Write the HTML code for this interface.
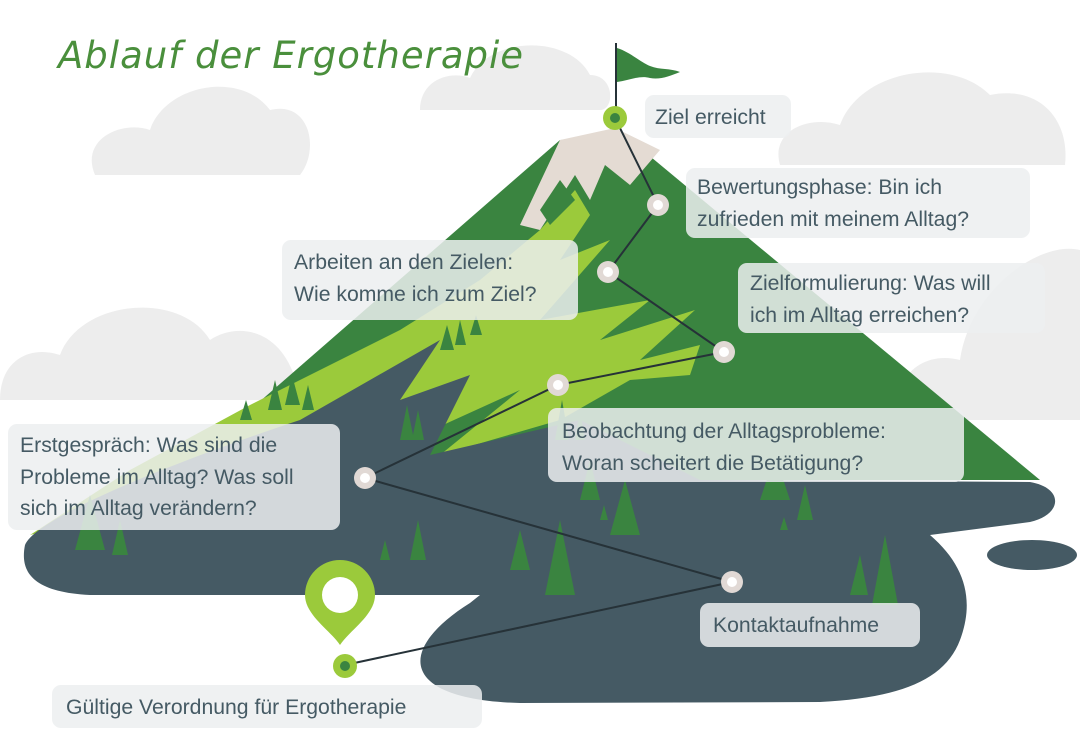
<!DOCTYPE html>
<html><head><meta charset="utf-8"><style>
html,body{margin:0;padding:0;background:#fff}
svg{display:block}
.t{font-family:"Liberation Sans","DejaVu Sans",sans-serif;font-size:21.2px;fill:#455a64}
</style></head><body>
<svg width="1080" height="752" viewBox="0 0 1080 752" xmlns="http://www.w3.org/2000/svg">
<g fill="#ededed">
<path d="M95,175 C80,140 120,120 150,130 C165,85 240,70 270,110 C310,100 320,150 300,175 Z"/>
<path d="M420,110 C420,80 450,70 470,78 C490,35 570,35 590,75 C615,75 615,110 600,110 Z"/>
<path d="M780,165 C770,130 810,115 840,125 C860,70 950,55 990,95 C1040,85 1070,120 1065,165 Z"/>
<path d="M900,420 C890,380 920,350 960,360 C970,290 1040,240 1080,250 L1080,420 Z"/>
<path d="M0,400 C0,360 30,345 60,355 C80,300 180,290 210,340 C240,320 290,330 300,400 Z"/>
</g>
<path d="M560,140 L628,138 L1040,480 L240,480 L250,410 Z" fill="#3a8440"/>
<path d="M560,140 L615,128 L660,150 L630,185 L605,165 L590,200 L575,175 L540,230 L520,225 Z" fill="#e4dbd3"/>
<path d="M540,230 L575,190 L590,215 L560,260 L610,240 L540,320 L650,300 L600,340 L695,310 L640,360 L700,345 L690,375 L630,380 L560,420 L440,455 L520,390 L410,440 L30,535 L130,470 L250,405 L400,330 L480,280 Z" fill="#9bca3b"/>
<path d="M560,180 L540,210 L550,225 L575,200 Z" fill="#3a8440"/>
<path d="M25,545 C35,520 150,470 300,420 L440,340 L400,400 L470,375 L430,455 L580,420 L700,480 L1030,482 C1065,488 1062,515 1030,522 L930,535 C965,565 975,600 960,640 C945,680 900,698 820,702 L520,703 C400,700 395,650 470,603 L480,595 L90,595 C30,592 20,570 25,545 Z" fill="#455a64"/>
<ellipse cx="1032" cy="555" rx="45" ry="15" fill="#455a64"/>
<g fill="#3a8440">
<path d="M75,550 L90,495 L105,550Z"/><path d="M112,555 L120,520 L128,555Z"/>
<path d="M240,420 L246,400 L252,420Z"/><path d="M268,410 L275,380 L282,410Z"/><path d="M285,405 L292,375 L300,405Z"/><path d="M302,410 L308,385 L314,410Z"/>
<path d="M400,440 L407,405 L414,440Z"/><path d="M412,440 L418,410 L424,440Z"/><path d="M380,560 L385,540 L390,560Z"/><path d="M410,560 L418,520 L426,560Z"/>
<path d="M440,350 L447,325 L454,350Z"/><path d="M455,345 L460,320 L466,345Z"/><path d="M470,335 L476,315 L482,335Z"/>
<path d="M510,570 L520,530 L530,570Z"/><path d="M545,595 L560,520 L575,595Z"/><path d="M610,535 L625,480 L640,535Z"/>
<path d="M580,500 L590,460 L600,500Z"/><path d="M600,520 L604,505 L608,520Z"/>
<path d="M760,500 L775,455 L790,500Z"/><path d="M797,520 L805,485 L813,520Z"/><path d="M780,530 L784,517 L788,530Z"/>
<path d="M850,595 L860,555 L868,595Z"/><path d="M872,605 L885,535 L898,605Z"/>
<path d="M555,440 L562,400 L569,440Z"/><path d="M575,440 L580,410 L585,440Z"/>
</g>
<polyline points="615,118 658,205 608,272 724,352 558,385 365,478 732,582 345,665" fill="none" stroke="#263238" stroke-width="2"/>
<line x1="616" y1="43" x2="616" y2="115" stroke="#263238" stroke-width="2"/>
<path d="M617,48 C630,52 640,62 650,66 C660,70 670,68 680,72 C670,76 660,80 650,78 C640,75 630,80 617,82 Z" fill="#3a8440"/>
<g fill="#e1d9d5"><circle cx="658" cy="205" r="11"/><circle cx="608" cy="272" r="11"/><circle cx="724" cy="352" r="11"/><circle cx="558" cy="385" r="11"/><circle cx="365" cy="478" r="11"/><circle cx="732" cy="582" r="11"/></g>
<g fill="#fff"><circle cx="658" cy="205" r="5"/><circle cx="608" cy="272" r="5"/><circle cx="724" cy="352" r="5"/><circle cx="558" cy="385" r="5"/><circle cx="365" cy="478" r="5"/><circle cx="732" cy="582" r="5"/></g>
<circle cx="615" cy="118" r="12" fill="#9bca3b"/><circle cx="615" cy="118" r="5" fill="#3a8440"/>
<circle cx="345" cy="666" r="12" fill="#9bca3b"/><circle cx="345" cy="666" r="5" fill="#3a8440"/>
<path d="M340,645 C330,630 305,615 305,595 A35,35 0 0 1 375,595 C375,615 350,630 340,645 Z" fill="#9bca3b"/>
<circle cx="340" cy="595" r="18" fill="#fff"/>
<text x="58" y="68" font-family="DejaVu Sans, sans-serif" font-size="37" font-style="italic" fill="#4a8f3c" font-weight="300" letter-spacing="1">Ablauf der Ergotherapie</text>
<g fill="rgba(236,238,240,0.85)">
<rect x="645" y="95" width="146" height="43" rx="9"/>
<rect x="686" y="168" width="344" height="70" rx="9"/>
<rect x="282" y="240" width="296" height="80" rx="9"/>
<rect x="738" y="263" width="307" height="70" rx="9"/>
<rect x="548" y="408" width="416" height="74" rx="9"/>
<rect x="8" y="424" width="332" height="106" rx="9"/>
<rect x="700" y="603" width="220" height="44" rx="9"/>
<rect x="52" y="685" width="430" height="43" rx="9"/>
</g>
<text class="t" x="655" y="124">Ziel erreicht</text>
<text class="t" x="697" y="194">Bewertungsphase: Bin ich</text>
<text class="t" x="697" y="226">zufrieden mit meinem Alltag?</text>
<text class="t" x="294" y="269">Arbeiten an den Zielen:</text>
<text class="t" x="294" y="301">Wie komme ich zum Ziel?</text>
<text class="t" x="750" y="290">Zielformulierung: Was will</text>
<text class="t" x="750" y="322">ich im Alltag erreichen?</text>
<text class="t" x="562" y="438">Beobachtung der Alltagsprobleme:</text>
<text class="t" x="562" y="470">Woran scheitert die Betätigung?</text>
<text class="t" x="20" y="452">Erstgespräch: Was sind die</text>
<text class="t" x="20" y="484">Probleme im Alltag? Was soll</text>
<text class="t" x="20" y="515">sich im Alltag verändern?</text>
<text class="t" x="713" y="632">Kontaktaufnahme</text>
<text class="t" x="66" y="714">Gültige Verordnung für Ergotherapie</text>
</svg>
</body></html>
